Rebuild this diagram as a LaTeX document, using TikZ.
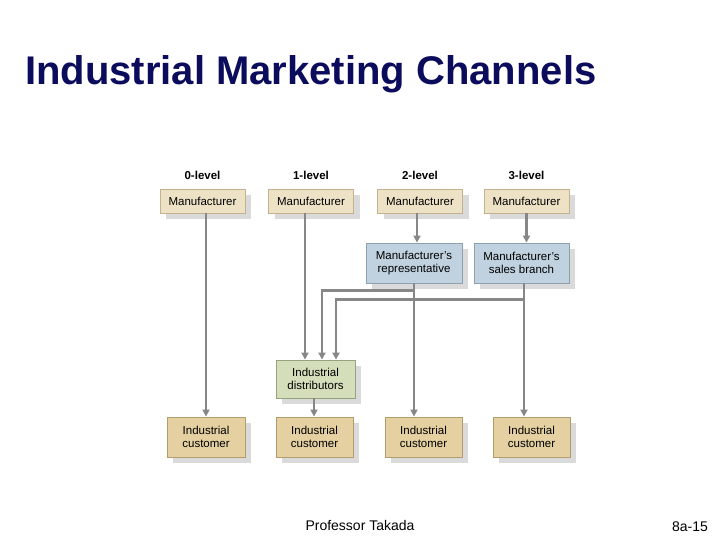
\documentclass[tikz,border=0pt]{standalone}
\usepackage{fontspec}
\setmainfont{Liberation Sans}
\usetikzlibrary{arrows.meta,calc,shadows}
\definecolor{titleblue}{RGB}{12,12,92}
\definecolor{mfrfill}{RGB}{238,226,198}
\definecolor{mfrdraw}{RGB}{196,178,140}
\definecolor{bluefill}{RGB}{192,210,223}
\definecolor{bluedraw}{RGB}{140,160,176}
\definecolor{greenfill}{RGB}{212,222,186}
\definecolor{greendraw}{RGB}{150,162,124}
\definecolor{custfill}{RGB}{228,208,160}
\definecolor{custdraw}{RGB}{176,156,108}
\definecolor{shadowgray}{RGB}{218,218,218}
\definecolor{linegray}{RGB}{135,135,135}
\tikzset{
  box/.style={draw, line width=0.8pt, inner sep=0pt, align=center,
    font=\fontsize{11.5}{13}\selectfont,
    drop shadow={shadow xshift=6pt, shadow yshift=-6pt, fill=shadowgray, opacity=1}},
  mfr/.style={box, fill=mfrfill, draw=mfrdraw, minimum width=85pt, minimum height=24pt},
  bluebox/.style={box, fill=bluefill, draw=bluedraw, minimum height=40pt},
  greenbox/.style={box, fill=greenfill, draw=greendraw, minimum width=79pt, minimum height=38pt},
  cust/.style={box, fill=custfill, draw=custdraw, minimum width=77pt, minimum height=40pt},
  lvl/.style={font=\bfseries\fontsize{11.5}{13}\selectfont},
  conn/.style={draw=linegray, line width=2.3pt},
  arr/.style={conn, -{Triangle[width=7pt,length=7pt]}},
}
\begin{document}
\begin{tikzpicture}[x=1pt,y=-1pt]
\useasboundingbox (0,0) rectangle (720,540);
\node[anchor=base west, text=titleblue, font=\bfseries\fontsize{40}{44}\selectfont, inner sep=0pt] (title) at (25,85) {Industrial Marketing Channels};

\node[lvl] (l0) at (202.5,175) {0-level};
\node[lvl] (l1) at (311,175) {1-level};
\node[lvl] (l2) at (420,175) {2-level};
\node[lvl] (l3) at (526.5,175) {3-level};

\node[mfr] (m0) at (202.5,201) {Manufacturer};
\node[mfr] (m1) at (311,201) {Manufacturer};
\node[mfr] (m2) at (420,201) {Manufacturer};
\node[mfr] (m3) at (526.5,201) {Manufacturer};

\node[bluebox, minimum width=96pt] (r) at (414,263) {Manufacturer's\\representative};
\node[bluebox, minimum width=95pt] (b) at (521.5,263) {Manufacturer's\\sales branch};

\node[greenbox] (d) at (315.5,379) {Industrial\\distributors};

\node[cust, minimum width=78pt] (c0) at (206,437) {Industrial\\customer};
\node[cust] (c1) at (314.5,437) {Industrial\\customer};
\node[cust] (c2) at (423.5,437) {Industrial\\customer};
\node[cust] (c3) at (531.5,437) {Industrial\\customer};

% connector anchor points
\coordinate (m2s) at ($(m2.south)+(-3,0)$);
\coordinate (bs) at ($(b.south)+(2.5,0)$);
\coordinate (ds) at ($(d.south)+(-1.5,0)$);
\coordinate (r1) at ($(r.south)+(0,7)$);
\coordinate (b1) at ($(bs)+(0,16)$);
\coordinate (dA) at ($(d.north)+(-10.5,0)$);
\coordinate (dB) at ($(d.north)+(6.5,0)$);
\coordinate (dC) at ($(d.north)+(20.5,0)$);

\draw[arr] (m0.south -| c0.north) -- (c0.north);
\draw[arr] (m1.south -| dA) -- (dA);
\draw[arr] (m2s) -- (m2s |- r.north);
\draw[arr] (m3.south) -- (m3.south |- b.north);
\draw[arr] (r.south) -- (r.south |- c2.north);
\draw[arr] (bs) -- (bs |- c3.north);
\draw[arr] (r1) -| (dB);
\draw[arr] (b1) -| (dC);
\draw[arr] (ds) -- (ds |- c1.north);

\node[font=\fontsize{14}{16}\selectfont] (prof) at (360,525) {Professor Takada};
\node[font=\fontsize{14}{16}\selectfont] (pg) at (690,527) {8a-15};
\end{tikzpicture}
\end{document}
